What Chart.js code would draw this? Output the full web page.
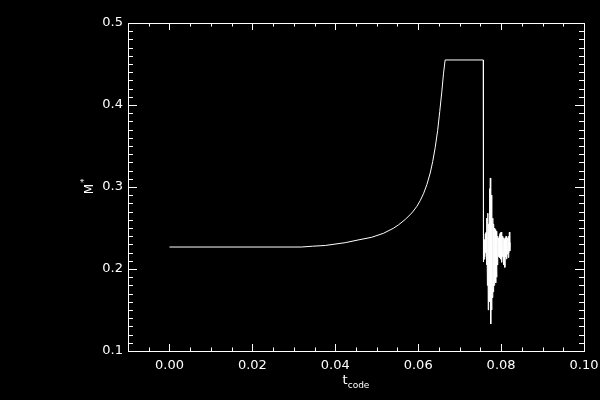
<!DOCTYPE html>
<html>
<head>
<meta charset="utf-8">
<script src="https://cdn.jsdelivr.net/npm/chart.js@4/dist/chart.umd.min.js"></script>
<style>
  html, body { margin: 0; padding: 0; background: #000; }
  #wrap { width: 600px; height: 400px; }
</style>
</head>
<body>
<div id="wrap"><canvas id="mstar"></canvas></div>
<script>
// t_code and M*
const tValues = [
  0.0000, 0.0318, 0.0345, 0.0376, 0.0424, 0.0455, 0.0488, 0.0516, 0.0540,
  0.0553, 0.0569, 0.0585, 0.0597, 0.0605, 0.0613, 0.0621, 0.0629, 0.0635, 0.0641,
  0.0647, 0.0652, 0.0657, 0.0661, 0.0665, 0.0757, 0.0757,
  // noisy part after the drop
  0.0758, 0.0759, 0.0760, 0.0761, 0.0762, 0.0763, 0.0764, 0.0765, 0.0766, 0.0767,
  0.0768, 0.0769, 0.0770, 0.0771, 0.0772, 0.0773, 0.0774, 0.0775, 0.0776, 0.0777,
  0.0778, 0.0779, 0.0780, 0.0781, 0.0782, 0.0783, 0.0784, 0.0785, 0.0786, 0.0787,
  0.0788, 0.0789, 0.0790, 0.0791, 0.0792, 0.0793, 0.0794, 0.0795, 0.0796, 0.0797,
  0.0798, 0.0799, 0.0800, 0.0801, 0.0802, 0.0803, 0.0804, 0.0805, 0.0806, 0.0807,
  0.0808, 0.0809, 0.0810, 0.0811, 0.0812, 0.0813, 0.0814, 0.0815, 0.0816, 0.0817,
  0.0818, 0.0819, 0.0820, 0.0821, 0.0822
];
const mValues = [
  0.2268, 0.2268, 0.2278, 0.2287, 0.2321, 0.2354, 0.2387, 0.2435, 0.2496,
  0.2540, 0.2605, 0.2685, 0.2765, 0.2835, 0.2920, 0.3030, 0.3170, 0.3310, 0.3480,
  0.3690, 0.3920, 0.4160, 0.4380, 0.4549, 0.4549, 0.2085,
  0.240, 0.212, 0.236, 0.215, 0.243, 0.220, 0.245, 0.205, 0.262, 0.180,
  0.268, 0.150, 0.255, 0.165, 0.298, 0.160, 0.311, 0.133, 0.290, 0.150,
  0.268, 0.165, 0.262, 0.172, 0.255, 0.180, 0.250, 0.185, 0.248, 0.183,
  0.246, 0.190, 0.244, 0.205, 0.240, 0.215, 0.238, 0.218, 0.242, 0.214,
  0.244, 0.212, 0.245, 0.208, 0.242, 0.215, 0.240, 0.212, 0.238, 0.205,
  0.236, 0.202, 0.238, 0.215, 0.240, 0.212, 0.236, 0.218, 0.238, 0.214,
  0.240, 0.220, 0.245, 0.222, 0.232
];

const xTicks = [0.00, 0.02, 0.04, 0.06, 0.08, 0.10];
const xTickLabels = ['0.00', '0.02', '0.04', '0.06', '0.08', '0.10'];
const yTicks = [0.1, 0.2, 0.3, 0.4, 0.5];
const yTickLabels = ['0.1', '0.2', '0.3', '0.4', '0.5'];

const points = tValues.map((t, i) => ({ x: t, y: mValues[i] }));

// IDL style frame: inward ticks on all four sides, plus axis titles
const idlFrame = {
  id: 'idlFrame',
  afterDraw(chart) {
    const { ctx, chartArea: a, scales: { x, y } } = chart;
    ctx.save();
    ctx.strokeStyle = '#fff';
    ctx.lineWidth = 1;
    ctx.strokeRect(a.left + 0.5, a.top + 0.5, a.right - a.left, a.bottom - a.top);

    ctx.beginPath();
    for (let i = 1; i < 22; i++) {
      const v = -0.01 + i * 0.005;
      const px = Math.round(x.getPixelForValue(v)) + 0.5;
      const len = (i % 4 === 2) ? 7 : 3.5;
      ctx.moveTo(px, a.bottom); ctx.lineTo(px, a.bottom - len);
      ctx.moveTo(px, a.top); ctx.lineTo(px, a.top + len);
    }
    for (let i = 1; i < 40; i++) {
      const v = 0.1 + i * 0.01;
      const py = Math.round(y.getPixelForValue(v)) + 0.5;
      const len = (i % 10 === 0) ? 9 : 5;
      ctx.moveTo(a.left, py); ctx.lineTo(a.left + len, py);
      ctx.moveTo(a.right, py); ctx.lineTo(a.right - len, py);
    }
    ctx.stroke();

    // x title: t with subscript "code"
    ctx.fillStyle = '#fff';
    ctx.textBaseline = 'alphabetic';
    ctx.font = '13px "DejaVu Sans"';
    const tw = ctx.measureText('t').width;
    ctx.font = '9px "DejaVu Sans"';
    const cw = ctx.measureText('code').width;
    const cx = (a.left + a.right) / 2 - (tw + cw) / 2;
    ctx.font = '13px "DejaVu Sans"';
    ctx.fillText('t', cx, 384);
    ctx.font = '9px "DejaVu Sans"';
    ctx.fillText('code', cx + tw, 388);

    // y title: M with superscript star, rotated
    ctx.translate(93, (a.top + a.bottom) / 2);
    ctx.rotate(-Math.PI / 2);
    ctx.font = '12px "DejaVu Sans"';
    const mw = ctx.measureText('M').width;
    ctx.fillText('M', -mw / 2 - 2, 0);
    ctx.font = '8px "DejaVu Sans"';
    ctx.fillText('*', mw / 2 - 1, -6);
    ctx.restore();
  }
};

new Chart(document.getElementById('mstar'), {
  type: 'scatter',
  data: {
    datasets: [{
      data: points,
      showLine: true,
      borderColor: '#fff',
      borderWidth: 1,
      pointRadius: 0,
      tension: 0
    }]
  },
  options: {
    responsive: true,
    maintainAspectRatio: false,
    animation: false,
    layout: { padding: { top: 23, right: 16, left: 0, bottom: 0 } },
    plugins: { legend: { display: false }, tooltip: { enabled: false } },
    scales: {
      x: {
        type: 'linear',
        min: -0.01,
        max: 0.10,
        grid: { display: false, drawTicks: false },
        border: { display: false },
        afterBuildTicks: s => { s.ticks = xTicks.map(v => ({ value: v })); },
        afterFit: s => { s.height = 49; s.paddingLeft = 0; s.paddingRight = 0; },
        ticks: {
          color: '#fff',
          padding: 7,
          maxRotation: 0,
          font: { family: 'DejaVu Sans', size: 13 },
          callback: (v, i) => xTickLabels[i]
        }
      },
      y: {
        type: 'linear',
        min: 0.1,
        max: 0.5,
        grid: { display: false, drawTicks: false },
        border: { display: false },
        afterBuildTicks: s => { s.ticks = yTicks.map(v => ({ value: v })); },
        afterFit: s => { s.width = 128; s.paddingTop = 0; s.paddingBottom = 0; },
        ticks: {
          color: '#fff',
          padding: 5,
          font: { family: 'DejaVu Sans', size: 13 },
          callback: (v, i) => yTickLabels[i]
        }
      }
    }
  },
  plugins: [idlFrame]
});
</script>
</body>
</html>
